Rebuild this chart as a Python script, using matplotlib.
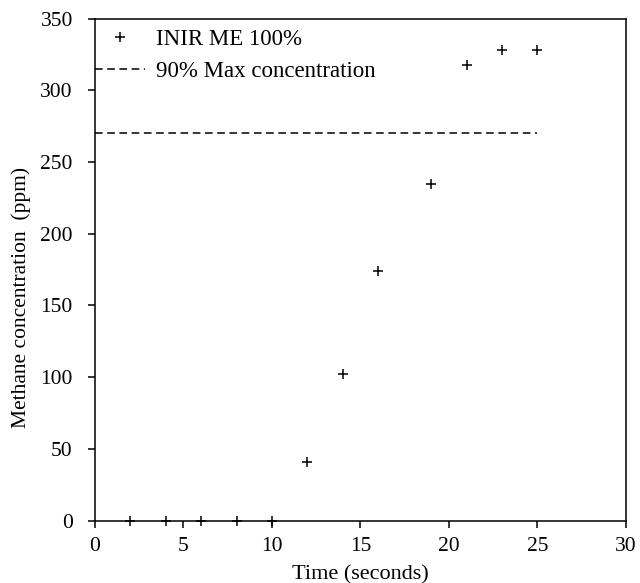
import matplotlib
matplotlib.use("Agg")
import matplotlib.pyplot as plt

plt.rcParams["font.family"] = ["Liberation Serif", "DejaVu Serif"]

# Measured data
time_s = [2, 4, 6, 8, 10, 12, 14, 16, 19, 21, 23, 25]
methane_ppm = [0, 0, 0, 0, 0, 41, 102, 174, 235, 318, 328, 328]

# 90% of max concentration line
line_x = [0, 25]
line_y = [270, 270]

fig = plt.figure(figsize=(6.4, 5.83), dpi=100)
ax = fig.add_axes([0.1484, 0.107, 0.8297, 0.861])

ax.plot(time_s, methane_ppm, "+", color="black", markersize=7, markeredgewidth=1.1,
        label="INIR ME 100%", clip_on=False, zorder=3)
ax.plot(line_x, line_y, color="black", linewidth=1.1, dashes=(5, 3),
        label="90% Max concentration")

ax.set_xlim(0, 30)
ax.set_ylim(0, 350)
ax.set_xticks([0, 5, 10, 15, 20, 25, 30])
ax.set_yticks(range(0, 351, 50))
ax.tick_params(direction="out", length=5, width=1.1, labelsize=15.5)
ax.tick_params(axis="x", pad=7)
ax.tick_params(axis="y", pad=11)
ax.set_xlabel("Time (seconds)", fontsize=16)
ax.set_ylabel("Methane concentration  (ppm)", fontsize=15.5)
ax.xaxis.set_label_coords(0.5, -0.088)
ax.yaxis.set_label_coords(-0.12, 0.445)
for s in ax.spines.values():
    s.set_linewidth(1.1)

ax.legend(loc="upper left", bbox_to_anchor=(0, 0.98), frameon=False, fontsize=16.5,
          handlelength=2.2, borderaxespad=0, borderpad=0, labelspacing=0.5,
          handletextpad=0.45)

fig.savefig("out.png", dpi=100)
